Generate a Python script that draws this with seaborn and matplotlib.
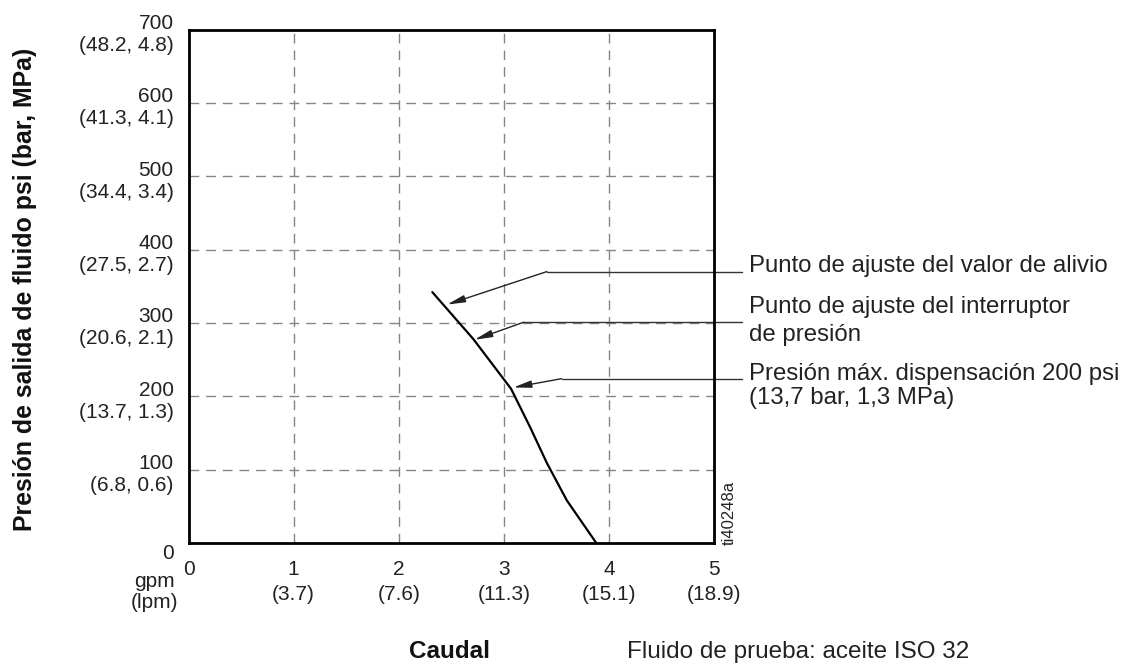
import matplotlib
matplotlib.use("Agg")
import matplotlib.pyplot as plt
import matplotlib.transforms as mtransforms
import seaborn as sns
import pandas as pd

# ---- data ----
flow_gpm = [2.32, 2.71, 3.07, 3.25, 3.41, 3.60, 3.88]
pressure_psi = [342, 278, 210, 158, 109, 58, 0]

x_ticks = [0, 1, 2, 3, 4, 5]
x_tick_labels = ["0", "1\n(3.7)", "2\n(7.6)", "3\n(11.3)", "4\n(15.1)", "5\n(18.9)"]
y_ticks = [0, 100, 200, 300, 400, 500, 600, 700]
y_tick_labels = ["0", "100\n(6.8, 0.6)", "200\n(13.7, 1.3)", "300\n(20.6, 2.1)",
                 "400\n(27.5, 2.7)", "500\n(34.4, 3.4)", "600\n(41.3, 4.1)",
                 "700\n(48.2, 4.8)"]

callout_labels = ["Punto de ajuste del valor de alivio",
                  "Punto de ajuste del interruptor\nde presión",
                  "Presión máx. dispensación 200 psi\n(13,7 bar, 1,3 MPa)"]
callout_tip_x = [2.46, 2.72, 3.09]
callout_tip_y = [325, 277, 212]
callout_knee_x = [3.41, 3.19, 3.55]
callout_knee_y = [370, 301, 224]

y_label = "Presión de salida de fluido psi (bar, MPa)"
x_label = "Caudal"
note = "Fluido de prueba: aceite ISO 32"
unit_label = "gpm\n(lpm)"
fig_id = "ti40248a"

# ---- style ----
sns.set_theme(style="white")
plt.rcParams["font.family"] = ["Liberation Sans", "DejaVu Sans"]

W, H = 1125, 664
TXT = "#222222"
fig = plt.figure(figsize=(W / 100, H / 100), dpi=100)
ax = fig.add_axes([188.5 / W, 1 - 543 / H, (714 - 188.5) / W, (543 - 29.5) / H])

df = pd.DataFrame({"flow": flow_gpm, "pressure": pressure_psi})
sns.lineplot(data=df, x="flow", y="pressure", sort=False, estimator=None,
             color="black", linewidth=1.6, ax=ax)

ax.set_xlim(0, 5)
ax.set_ylim(0, 700)
ax.set_xticks(x_ticks)
ax.set_yticks(y_ticks)
ax.set_xticklabels(x_tick_labels, fontsize=15, color=TXT, linespacing=1.45)
ax.set_yticklabels([])
ax.tick_params(axis="x", length=0, pad=12)
ax.tick_params(axis="y", length=0)
ax.set_xlabel("")
ax.set_ylabel("")

# y tick labels (two-line, slightly below each gridline)
ytrans = mtransforms.blended_transform_factory(ax.transAxes, ax.transData)
for yv, lab in zip(y_ticks, y_tick_labels):
    if yv == 0:
        off = mtransforms.ScaledTranslation(-15 / 100, -1 / 100, fig.dpi_scale_trans)
        ax.text(0, yv, lab, transform=ytrans + off, ha="right", va="top",
                fontsize=15, color=TXT)
    else:
        off = mtransforms.ScaledTranslation(-15 / 100, -5 / 100, fig.dpi_scale_trans)
        ax.text(0, yv, lab, transform=ytrans + off, ha="right", va="center",
                fontsize=15, color=TXT, linespacing=1.2, multialignment="right")

# grid
for xv in x_ticks[1:]:
    ax.axvline(xv, color="#858585", linewidth=1.0, linestyle=(0, (7, 5)), zorder=0)
for yv in y_ticks[1:-1]:
    ax.axhline(yv, color="#858585", linewidth=1.0, linestyle=(0, (7, 5)), zorder=0)

for sp in ax.spines.values():
    sp.set_visible(True)
    sp.set_color("black")
    sp.set_linewidth(2.0)

# callouts
line_end_x = 5.27
for tx, ty, kx, ky in zip(callout_tip_x, callout_tip_y, callout_knee_x, callout_knee_y):
    ax.plot([kx, line_end_x], [ky, ky], color="#333333", linewidth=1.0, clip_on=False)
    ax.annotate("", xy=(tx, ty), xytext=(kx, ky),
                arrowprops=dict(arrowstyle="-|>,head_length=0.9,head_width=0.18",
                                color="#222222", linewidth=1.0, shrinkA=0, shrinkB=0),
                annotation_clip=False)

text_x = 749 / W
FS = 17.3
fig.text(text_x, 1 - 266 / H, callout_labels[0], fontsize=FS, color=TXT,
         ha="left", va="center")
fig.text(text_x, 1 - 321 / H, callout_labels[1], fontsize=FS, color=TXT,
         ha="left", va="center", linespacing=1.32)
fig.text(text_x, 1 - 386 / H, callout_labels[2], fontsize=FS, color=TXT,
         ha="left", va="center", linespacing=1.15)

fig.text(178 / W, 1 - 572 / H, unit_label, fontsize=15, color=TXT,
         ha="right", va="top", multialignment="center", linespacing=1.15)
fig.text(25 / W, 1 - 289 / H, y_label, fontsize=17.9, fontweight="bold",
         rotation=90, ha="center", va="center", color="#111111")
fig.text(450 / W, 1 - 652 / H, x_label, fontsize=17.5, fontweight="bold",
         ha="center", va="center", color="#111111")
fig.text(627 / W, 1 - 652 / H, note, fontsize=17.5, ha="left", va="center",
         color=TXT)
fig.text(729 / W, 1 - 545 / H, fig_id, fontsize=12, rotation=90, ha="center",
         va="bottom", color=TXT)

fig.savefig("out.png", dpi=100, facecolor="white")
